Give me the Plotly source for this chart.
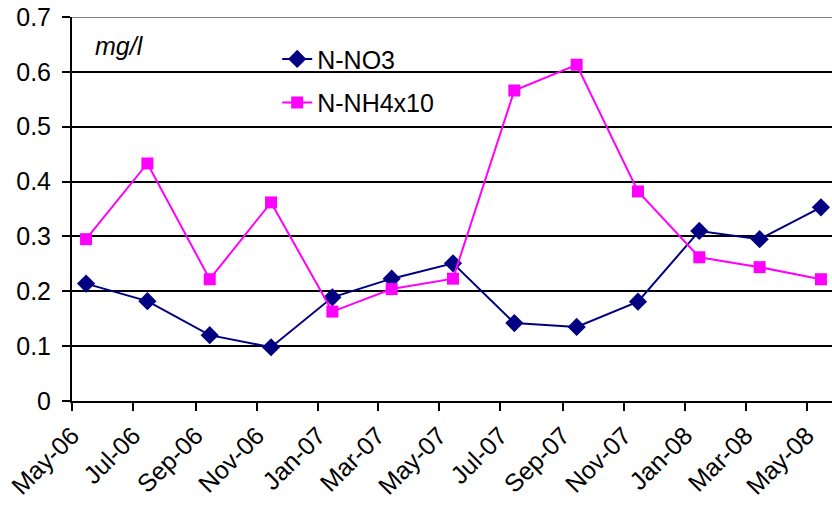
import plotly.graph_objects as go

dates = ["2006-05-15", "2006-07-15", "2006-09-15", "2006-11-15", "2007-01-15",
         "2007-03-15", "2007-05-15", "2007-07-15", "2007-09-15", "2007-11-15",
         "2008-01-15", "2008-03-15", "2008-05-15"]
n_no3 = [0.214, 0.182, 0.120, 0.098, 0.189, 0.223, 0.251, 0.142, 0.135, 0.181,
         0.310, 0.295, 0.353]
n_nh4x10 = [0.295, 0.433, 0.222, 0.362, 0.163, 0.204, 0.223, 0.566, 0.613, 0.382,
            0.262, 0.244, 0.222]

FONT = "Liberation Sans, Arial, sans-serif"
FS = 25

fig = go.Figure()
fig.add_trace(go.Scatter(
    x=dates, y=n_no3, name="N-NO3", mode="lines+markers",
    line=dict(color="#000080", width=2),
    marker=dict(symbol="diamond", size=14, color="#000080"),
    legendgroup="a"))
fig.add_trace(go.Scatter(
    x=dates, y=n_nh4x10, name="N-NH4x10", mode="lines+markers",
    line=dict(color="#FF00FF", width=2),
    marker=dict(symbol="square", size=12, color="#FF00FF"),
    legendgroup="b"))

# top border line of plot area
fig.add_shape(type="line", xref="paper", yref="y", x0=0, x1=1, y0=0.7, y1=0.7,
              line=dict(color="#808080", width=2), layer="above")
# white legend area hiding gridlines behind the legend
fig.add_shape(type="rect", xref="paper", yref="y", x0=0.2434, x1=0.501,
              y0=0.53, y1=0.658, fillcolor="white", line=dict(width=0),
              layer="between")

fig.add_annotation(text="<i>mg/l</i>", xref="paper", yref="y", x=0.028, y=0.647,
                   xanchor="left", yanchor="middle", showarrow=False,
                   font=dict(family=FONT, size=FS, color="black"))

fig.update_layout(
    width=832, height=505,
    margin=dict(l=72, r=0, t=17, b=104),
    paper_bgcolor="white", plot_bgcolor="white",
    font=dict(family=FONT, size=FS, color="black"),
    showlegend=True,
    legend=dict(x=0.27, y=0.95, xanchor="left", yanchor="top",
                bgcolor="rgba(255,255,255,0)", borderwidth=0, tracegroupgap=8,
                font=dict(family=FONT, size=FS, color="black")),
)
fig.update_xaxes(
    type="date", range=["2006-05-01", "2008-05-26"],
    dtick="M2", tick0="2006-05-01", tickformat="%b-%y", tickangle=-45,
    showgrid=False, showline=True, linecolor="black", linewidth=2,
    ticks="outside", ticklen=8, tickwidth=2, tickcolor="black",
    tickfont=dict(family=FONT, size=FS, color="black"),
)
fig.update_yaxes(
    range=[0, 0.7], dtick=0.1, tick0=0, tickformat="~g",
    showgrid=True, gridcolor="black", gridwidth=2,
    showline=True, linecolor="black", linewidth=2,
    ticks="outside", ticklen=8, tickwidth=2, tickcolor="black",
    ticklabelstandoff=6, zeroline=False,
    tickfont=dict(family=FONT, size=FS, color="black"),
)

fig.write_html("out.html")
